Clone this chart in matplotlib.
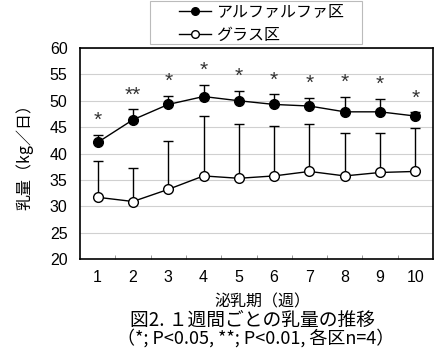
import numpy as np
import matplotlib
matplotlib.use('Agg')
import matplotlib.pyplot as plt
from matplotlib.lines import Line2D
from matplotlib.patches import Rectangle

plt.rcParams['font.family'] = ['Noto Sans CJK JP', 'DejaVu Sans']

# datos
semanas = [1, 2, 3, 4, 5, 6, 7, 8, 9, 10]
alfalfa = [42.1, 46.4, 49.3, 50.8, 50.0, 49.3, 49.0, 47.9, 47.9, 47.1]
alfalfa_sd = [1.4, 2.0, 1.6, 2.2, 1.9, 1.9, 1.5, 2.8, 2.4, 0.7]
grass = [31.7, 30.9, 33.2, 35.75, 35.3, 35.75, 36.6, 35.75, 36.4, 36.6]
grass_sd = [6.8, 6.4, 9.1, 11.35, 10.3, 9.45, 8.9, 8.15, 7.4, 8.3]
signif = ['*', '**', '*', '*', '*', '*', '*', '*', '*', '*']
etiquetas_y = [20, 25, 30, 35, 40, 45, 50, 55, 60]

fig = plt.figure(figsize=(4.4, 3.51), dpi=100)
ax = fig.add_axes([80/440, 1-259/351, 353/440, 211/351])

ax.errorbar(semanas, grass, yerr=[np.zeros(len(grass)), grass_sd], color='black',
            lw=1, marker='o', ms=7, mfc='white', mec='black', mew=1,
            capsize=3.5, capthick=1, elinewidth=1, zorder=3)
ax.errorbar(semanas, alfalfa, yerr=[np.zeros(len(alfalfa)), alfalfa_sd], color='black',
            lw=1, marker='o', ms=7, mfc='black', mec='black',
            capsize=3.5, capthick=1, elinewidth=1, zorder=4)

# asteriscos de significancia
for x, y, e, s in zip(semanas, alfalfa, alfalfa_sd, signif):
    ax.annotate(s, (x, y+e), xytext=(0, 3.5), textcoords='offset points',
                ha='center', va='bottom', fontsize=15, color='#333333',
                family=['Liberation Sans'])

ax.set_xlim(0.5, 10.5)
ax.set_ylim(20, 60)
ax.set_yticks(etiquetas_y)
ax.set_yticklabels([str(v) for v in etiquetas_y], family=['Liberation Sans'], fontsize=11.5)
ax.set_xticks(semanas)
ax.set_xticklabels([str(v) for v in semanas], family=['Liberation Sans'], fontsize=11.5)
ax.tick_params(axis='x', length=0, pad=8)
ax.tick_params(axis='y', length=0, pad=9)
ax.set_xticks(np.arange(1.5, 10.5, 1), minor=True)
ax.tick_params(axis='x', which='minor', direction='in', length=3, color='#888888')
ax.grid(axis='y', color='#d0d0d0', lw=0.8)
ax.set_axisbelow(True)
for sp in ax.spines.values():
    sp.set_linewidth(1.2)

ax.set_ylabel('乳量（kg／日）', fontsize=11.5, labelpad=12)

# leyenda
fig.patches.append(Rectangle((150/440, 1-44/351), 212/440, 43/351, transform=fig.transFigure,
                             facecolor='white', edgecolor='#bbbbbb', lw=0.8))
handles = [Line2D([], [], color='black', lw=1, marker='o', ms=5.5, mfc='black'),
           Line2D([], [], color='black', lw=1, marker='o', ms=5.5, mfc='white')]
leg = fig.legend(handles, ['アルファルファ区', 'グラス区'], loc='upper left',
                 bbox_to_anchor=(179/440, 1-4/351), fontsize=11.5, frameon=False,
                 handlelength=2.0, borderpad=0, labelspacing=0.35,
                 handletextpad=0.3, borderaxespad=0)

fig.text(262/440, 1-302/351, '泌乳期（週）', ha='center', va='center', fontsize=11.5)
fig.text(252/440, 1-320/351, '図2. １週間ごとの乳量の推移', ha='center', va='center', fontsize=13.5)
fig.text(256/440, 1-338/351, '（*; P<0.05, **; P<0.01, 各区n=4）', ha='center', va='center', fontsize=13)

fig.savefig('out.png', dpi=100)
